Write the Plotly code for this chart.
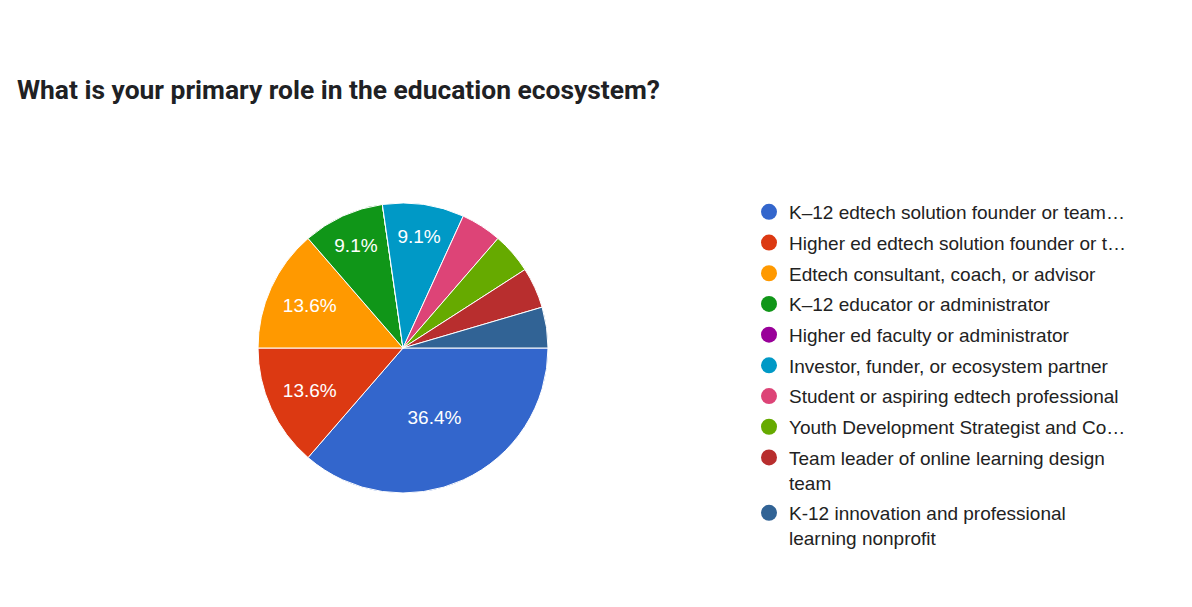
import plotly.graph_objects as go

labels = [
    "K–12 edtech solution founder or team…",
    "Higher ed edtech solution founder or t…",
    "Edtech consultant, coach, or advisor",
    "K–12 educator or administrator",
    "Higher ed faculty or administrator",
    "Investor, funder, or ecosystem partner",
    "Student or aspiring edtech professional",
    "Youth Development Strategist and Co…",
    "Team leader of online learning design<br>team",
    "K-12 innovation and professional<br>learning nonprofit",
]
counts = [8, 3, 3, 2, 0, 2, 1, 1, 1, 1]
colors = ["#3366cc", "#dc3912", "#ff9900", "#109618", "#990099",
          "#0099c6", "#dd4477", "#66aa00", "#b82e2e", "#316395"]
title = "What is your primary role in the education ecosystem?"

W, H = 1192, 607
OFF = 8  # page body margin

total = sum(counts)
templates = ["%{percent:.1%}" if c / total >= 0.05 else "" for c in counts]

fig = go.Figure()
fig.add_trace(go.Pie(
    labels=labels,
    values=counts,
    marker=dict(colors=colors, line=dict(color="white", width=1)),
    sort=False,
    direction="clockwise",
    rotation=90,
    texttemplate=templates,
    textposition="inside",
    insidetextorientation="horizontal",
    textfont=dict(family="Liberation Sans, Arial", size=19, color="white"),
    showlegend=False,
    hoverinfo="label+value+percent",
    domain=dict(x=[(258 - OFF) / W, (548 - OFF) / W],
                y=[(H - (493 - OFF)) / H, (H - (203 - OFF)) / H]),
))

for i, (lab, col) in enumerate(zip(labels, colors)):
    fig.add_trace(go.Scatter(
        x=[None], y=[None], mode="markers", name=lab,
        marker=dict(symbol="circle", size=16, color=col),
        legendgroup=str(i), showlegend=True,
    ))

fig.update_layout(
    width=W, height=H,
    margin=dict(l=0, r=0, t=0, b=0),
    paper_bgcolor="white", plot_bgcolor="white",
    title=dict(text=f"<b>{title}</b>", x=(17 - OFF) / W, xanchor="left", xref="paper",
               y=1 - (90 - OFF) / H, yanchor="middle",
               font=dict(family="Roboto", size=26.4, color="#202124")),
    xaxis=dict(visible=False), yaxis=dict(visible=False),
    legend=dict(x=(749 - OFF) / W, xanchor="left", y=1 - (193 - OFF) / H, yanchor="top",
                font=dict(family="Liberation Sans, Arial", size=19, color="#222222"),
                tracegroupgap=3, itemsizing="trace", valign="top",
                bgcolor="rgba(0,0,0,0)"),
)

fig.write_html("out.html")
